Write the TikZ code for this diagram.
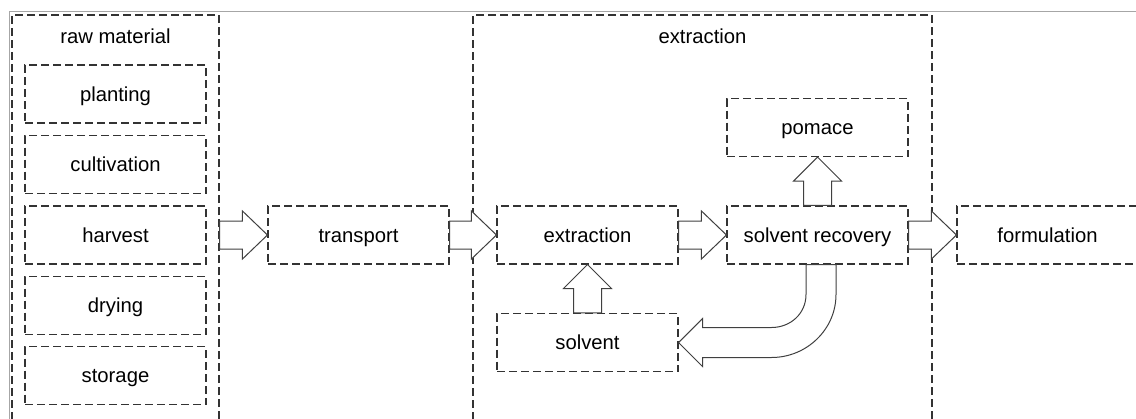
\documentclass[tikz,border=0pt]{standalone}
\usepackage{fontspec}
\setmainfont{Liberation Sans}
\usetikzlibrary{calc}

\tikzset{
  procbox/.style={draw=black!80, dash pattern=on 6pt off 3pt, line width=0.8pt,
    minimum width=135.75pt, minimum height=43.5pt, inner sep=0pt,
    text height=11pt, text depth=0pt},
  groupbox/.style={draw=black!80, dash pattern=on 6pt off 3pt, line width=0.8pt,
    inner sep=0pt},
  blockarrow/.style={draw=black!75, line width=0.75pt, fill=white, line join=miter},
}

% fat arrows between two points, one to the right and one upwards
\newcommand{\hblock}[2]{\draw[blockarrow] let \p1=(#1), \p2=(#2) in
  (\x1,\y1+10.5pt) -- (\x2-18.75pt,\y1+10.5pt) -- (\x2-18.75pt,\y1+18pt) -- (\x2,\y1)
  -- (\x2-18.75pt,\y1-18pt) -- (\x2-18.75pt,\y1-10.5pt) -- (\x1,\y1-10.5pt) -- cycle;}
\newcommand{\vblock}[2]{\draw[blockarrow] let \p1=(#1), \p2=(#2) in
  (\x1-10.5pt,\y1) -- (\x1-10.5pt,\y2-18pt) -- (\x1-18pt,\y2-18pt) -- (\x1,\y2)
  -- (\x1+18pt,\y2-18pt) -- (\x1+10.5pt,\y2-18pt) -- (\x1+10.5pt,\y1) -- cycle;}

\begin{document}
\begin{tikzpicture}[x=0.75pt, y=-0.75pt, font=\fontsize{15.2}{18}\selectfont]
    \useasboundingbox (0,0) rectangle (1136,418);
    \clip (0,0) rectangle (1136,418);
    \draw[gray!70, line width=0.75pt] (1136,11) -- (9,11) -- (9,430);

    % groups
    \node[groupbox, minimum width=155.25pt, minimum height=318.75pt] (raw) at (115.5,227.5) {};
    \node[anchor=base] (rawtitle) at (115.5,43) {raw material};
    \node[groupbox, minimum width=344.25pt, minimum height=318.75pt] (extr) at (702.5,227.5) {};
    \node[anchor=base] (extrtitle) at (702.5,43) {extraction};

    % raw material steps
    \node[procbox] (planting) at (115.5,94) {planting};
    \node[procbox] (cultivation) at (115.5,164.5) {cultivation};
    \node[procbox] (harvest) at (115.5,235) {harvest};
    \node[procbox] (drying) at (115.5,305.5) {drying};
    \node[procbox] (storage) at (115.5,375.5) {storage};

    \node[procbox] (transport) at (358.5,235) {transport};
    \node[procbox] (extraction) at (587.5,235) {extraction};
    \node[procbox] (recovery) at (817.5,235) {solvent recovery};
    \node[procbox] (pomace) at (817.5,127.5) {pomace};
    \node[procbox] (solvent) at (587.5,342.5) {solvent};
    \node[procbox] (formulation) at (1047.5,235) {formulation};

    \hblock{raw.east |- harvest}{transport.west}
    \hblock{transport.east}{extraction.west}
    \hblock{extraction.east}{recovery.west}
    \hblock{recovery.east}{formulation.west}
    \vblock{recovery.north}{pomace.south}
    \vblock{solvent.north}{extraction.south}

    % solvent goes back
    \draw[blockarrow] ($(recovery.south)+(-11.5,0)$) -- ($(recovery.south)+(-11.5,30)$)
      .. controls ($(recovery.south)+(-11.5,49)$) and ($(solvent.east)+(112,-15)$) .. ($(solvent.east)+(93,-15)$)
      -- ($(solvent.east)+(24,-15)$) -- ($(solvent.east)+(24,-24)$) -- (solvent.east)
      -- ($(solvent.east)+(24,24)$) -- ($(solvent.east)+(24,15)$) -- ($(solvent.east)+(93,15)$)
      .. controls ($(solvent.east)+(128,15)$) and ($(recovery.south)+(18.5,65)$) .. ($(recovery.south)+(18.5,30)$)
      -- ($(recovery.south)+(18.5,0)$) -- cycle;
\end{tikzpicture}
\end{document}
